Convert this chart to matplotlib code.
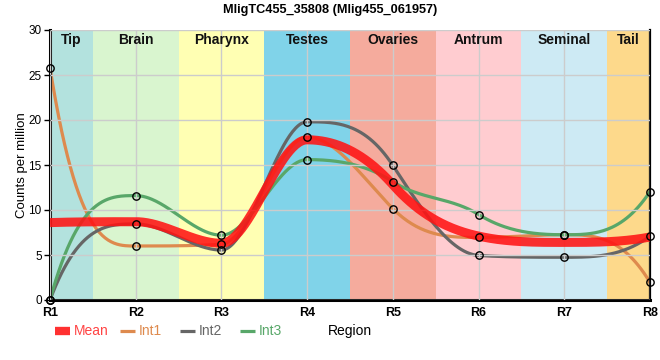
import numpy as np
import matplotlib
matplotlib.use("Agg")
import matplotlib.pyplot as plt
from matplotlib.lines import Line2D

plt.rcParams['font.family'] = ['Liberation Sans', 'DejaVu Sans']

# data
regions = ["R1", "R2", "R3", "R4", "R5", "R6", "R7", "R8"]
tissues = ["Tip", "Brain", "Pharynx", "Testes", "Ovaries", "Antrum", "Seminal", "Tail"]
tissue_colors = ["#b3e2de", "#d9f5cf", "#ffffb3", "#80d3e9",
                 "#f5ab9d", "#ffccd0", "#cdeaf4", "#fdd98b"]
int1 = [25.8, 6.0, 6.2, 18.1, 10.15, 6.95, 7.25, 1.95]
int2 = [0.0, 8.45, 5.55, 19.8, 14.95, 4.95, 4.75, 7.1]
int3 = [0.0, 11.6, 7.2, 15.6, 13.15, 9.5, 7.25, 12.05]
mean = [8.6, 8.7, 6.3, 17.8, 12.8, 7.1, 6.4, 7.0]


def smooth(x, y, n=60):
    # monotone hermite curve, a bit sharper than the usual one
    x = np.asarray(x, float)
    y = np.asarray(y, float)
    h = np.diff(x)
    s = np.diff(y) / h
    t = np.zeros(len(x))
    for i in range(1, len(x) - 1):
        if s[i - 1] * s[i] <= 0:
            continue
        p = (s[i - 1] * h[i] + s[i] * h[i - 1]) / (h[i - 1] + h[i])
        m = min(abs(s[i - 1]), abs(s[i]))
        t[i] = np.sign(p) * min(2 * abs(p), 3 * m)
    t[0] = 3 * s[0] - 2 * t[1]
    t[-1] = 3 * s[-1] - 2 * t[-2]
    xs, ys = [], []
    for i in range(len(x) - 1):
        u = np.linspace(0, 1, n)
        dx = h[i]
        h00 = 2 * u ** 3 - 3 * u ** 2 + 1
        h10 = u ** 3 - 2 * u ** 2 + u
        h01 = -2 * u ** 3 + 3 * u ** 2
        h11 = u ** 3 - u ** 2
        xs.append(x[i] + dx * u)
        ys.append(h00 * y[i] + h10 * dx * t[i] + h01 * y[i + 1] + h11 * dx * t[i + 1])
    return np.concatenate(xs), np.concatenate(ys)


W, H = 660, 360
fig = plt.figure(figsize=(6.6, 3.6), dpi=100)
ax = fig.add_axes([50 / W, 60 / H, 600 / W, 270 / H])

xpos = np.arange(len(regions))
for i, (name, c) in enumerate(zip(tissues, tissue_colors)):
    ax.axvspan(i - 0.5, i + 0.5, color=c, lw=0, zorder=0)
    cx = min(max(i, 0.25), len(regions) - 1.25)
    ax.text(cx, 28.9, name, ha='center', va='center', fontsize=10,
            fontweight='bold', color='#111111', zorder=5)

ax.set_xlim(0, len(regions) - 1)
ax.set_ylim(0, 30)
ax.set_yticks(range(0, 31, 5))
ax.set_xticks(xpos)
ax.set_xticklabels(regions, fontweight='bold', fontsize=9)
ax.tick_params(axis='y', labelsize=8.5, length=4, width=1, pad=2)
ax.tick_params(axis='x', length=0, pad=5)
ax.grid(True, color='#cccccc', lw=1, zorder=1)
ax.set_axisbelow(False)

red = '#ff1414'
cols = {"Int1": "#de8a4e", "Int2": "#666666", "Int3": "#58a769"}
ax.plot(*smooth(xpos, mean), color=red, alpha=0.88, lw=6.5,
        solid_capstyle='butt', zorder=3)
for name, vals in [("Int1", int1), ("Int2", int2), ("Int3", int3)]:
    ax.plot(*smooth(xpos, vals), color=cols[name], lw=2.3, zorder=2.5)
for vals in [int1, int2, int3]:
    ax.plot(xpos, vals, 'o', ms=5.3, mfc='none', mec='black', mew=1,
            zorder=6, clip_on=False)

ax.spines['left'].set_linewidth(2.2)
ax.spines['bottom'].set_linewidth(2.2)
ax.spines['right'].set_linewidth(1.6)
ax.spines['top'].set_visible(False)

ax.set_ylabel("Counts per million", fontsize=9.5, labelpad=0)
fig.text(0.5, 1 - 10 / H, "MligTC455_35808 (Mlig455_061957)", fontsize=9.2,
         fontweight='bold', ha='center', va='center')

# legend row under the axis
ly = 1 - 331 / H
entries = [("Mean", red, 6, '#ff4444', 55),
           ("Int1", cols["Int1"], 2.3, cols["Int1"], 120),
           ("Int2", cols["Int2"], 2.3, cols["Int2"], 180),
           ("Int3", cols["Int3"], 2.3, cols["Int3"], 240)]
for label, c, lw, tc, x0 in entries:
    fig.add_artist(Line2D([x0 / W, (x0 + 15) / W], [ly, ly], color=c, lw=lw,
                          alpha=0.88 if label == "Mean" else 1,
                          solid_capstyle='butt'))
    fig.text((x0 + 19) / W, ly, label, color=tc, fontsize=10, ha='left', va='center')
fig.text(350 / W, ly, "Region", ha='center', va='center', fontsize=10)

fig.savefig("out.png", dpi=100)
